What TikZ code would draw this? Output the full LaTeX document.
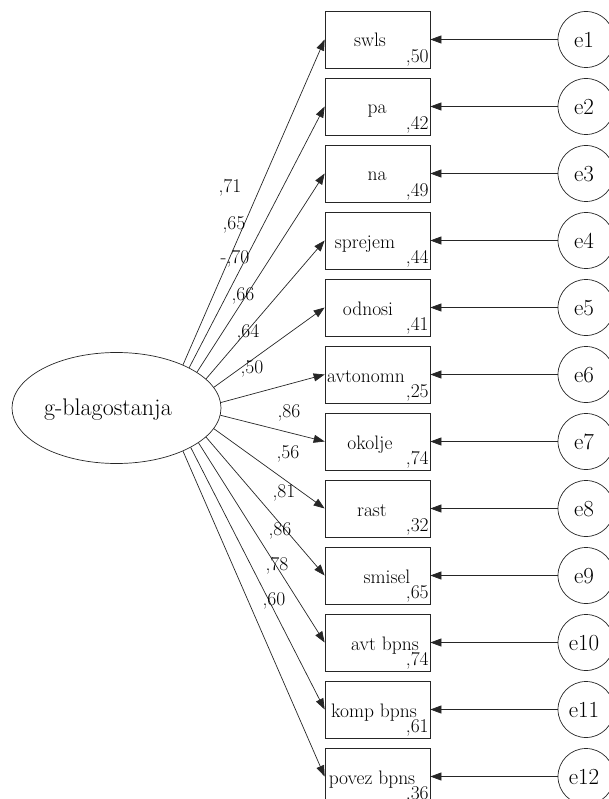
\documentclass[tikz,border=0pt]{standalone}
\usetikzlibrary{arrows.meta,shapes.geometric}
\begin{document}
\begin{tikzpicture}[x=1pt,y=-1pt, line width=0.7pt,
  obs/.style={draw=black!85, minimum width=105pt, minimum height=57pt, inner sep=0pt},
  err/.style={draw=black!85, circle, minimum size=56pt, inner sep=0pt},
  etxt/.style={font=\fontsize{23}{23}\selectfont, anchor=base, inner sep=0pt, text=black},
  lbl/.style={font=\fontsize{19.5}{19.5}\selectfont, anchor=base, inner sep=0pt, text=black},
  val/.style={font=\fontsize{19.5}{19.5}\selectfont, anchor=base east, inner sep=0pt, text=black},
  coef/.style={font=\fontsize{19.5}{19.5}\selectfont, anchor=base, inner sep=0pt, text=black},
  load/.style={draw=black!85, -{Triangle[length=11pt,width=8pt]}}]
\useasboundingbox (0,0) rectangle (609,799);
\node[draw=black!85, ellipse, minimum width=209pt, minimum height=111pt, inner sep=0pt] (g) at (116.5,408) {};
\node[font=\fontsize{24}{24}\selectfont, anchor=base, inner sep=0pt, text=black] (gt) at (108,415) {g-blagostanja};
\foreach \i/\nm/\tx/\v/\ang in {
  1/swls/370/{,50}/33.5,
  2/pa/377/{,42}/29.5,
  3/na/377/{,49}/24.7,
  4/sprejem/365/{,44}/18.9,
  5/odnosi/368/{,41}/12.2,
  6/avtonomn/366/{,25}/3.9,
  7/okolje/370/{,74}/-4.4,
  8/rast/372/{,32}/-12,
  9/smisel/387/{,65}/-18.7,
  10/avt bpns/385/{,74}/-23.5,
  11/komp bpns/374/{,61}/-28.2,
  12/povez bpns/372/{,36}/-33.5}{
  \pgfmathsetmacro\yc{39.5+67*(\i-1)}
  \node[obs] (b\i) at (377.5,\yc) {};
  \node[lbl] (t\i) at (\tx,\yc+7.5) {\nm};
  \node[val] (v\i) at (429,\yc+23) {\v};
  \node[err] (e\i) at (586,\yc) {};
  \node[etxt] (et\i) at (584,\yc+8) {e\i};
  \draw[load] (e\i.west) -- (b\i.east);
  \draw[load] (g.\ang) -- (b\i.west);
}
\foreach \j/\x/\y/\c in {
  1/230/193/{,71}, 2/234/230/{,65}, 3/235/263/{-,70}, 4/243/300/{,66},
  5/248/337/{,64}, 6/252/373/{,50}, 7/289/417/{,86}, 8/288/458/{,56},
  9/284/497/{,81}, 10/280/535/{,86}, 11/277/570/{,78}, 12/274/605/{,60}}{
  \node[coef] (c\j) at (\x,\y) {\c};
}
\end{tikzpicture}
\end{document}
